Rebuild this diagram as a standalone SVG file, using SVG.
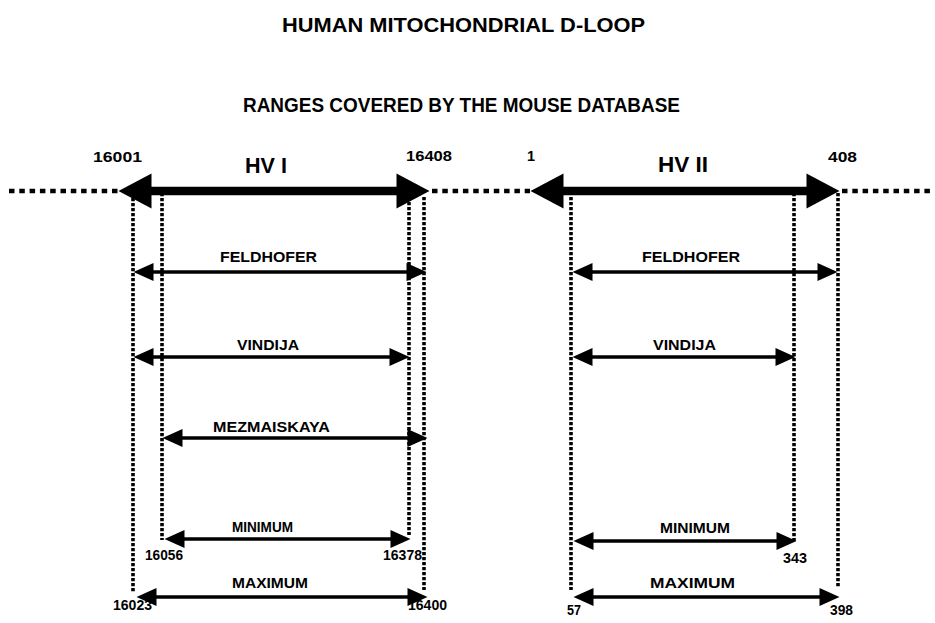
<svg xmlns="http://www.w3.org/2000/svg" width="935" height="623" viewBox="0 0 935 623">
<defs>
<style>
text{font-family:"Liberation Sans",Arial,Helvetica,sans-serif;font-weight:bold;fill:#000}
.title{font-size:20px}
.sub{font-size:20px}
.hv{font-size:22px}
.num{font-size:14.5px}
.lab{font-size:15px}
.hdot{stroke:#000;stroke-width:4.5;stroke-dasharray:5.5 4.8;fill:none}
.vdot{stroke:#000;stroke-width:3.6;stroke-dasharray:3.3 1.7;fill:none}
.big{stroke:#000;stroke-width:8.5;fill:none;marker-start:url(#bighead);marker-end:url(#bighead)}
.thin{stroke:#000;stroke-width:3.5;fill:none;marker-start:url(#head);marker-end:url(#head)}
</style>
<marker id="head" markerUnits="userSpaceOnUse" viewBox="0 0 20 18" markerWidth="20" markerHeight="18" refX="0.5" refY="9" orient="auto-start-reverse" overflow="visible">
<path d="M0,0 L20,9 L0,18 Z" fill="#000"/>
</marker>
<marker id="bighead" markerUnits="userSpaceOnUse" viewBox="0 0 33 35" markerWidth="33" markerHeight="35" refX="0.5" refY="17.5" orient="auto-start-reverse" overflow="visible">
<path d="M0,0 L33,17.5 L0,35 Z" fill="#000"/>
</marker>
</defs>
<rect width="935" height="623" fill="#fff"/>

<g id="titles">
<text class="title" x="282" y="32" textLength="363" lengthAdjust="spacingAndGlyphs">HUMAN MITOCHONDRIAL D-LOOP</text>
<text class="sub" x="243" y="112" textLength="437" lengthAdjust="spacingAndGlyphs">RANGES COVERED BY THE MOUSE DATABASE</text>
</g>

<g id="connectors">
<line class="hdot" x1="9" y1="191" x2="118" y2="191"/>
<line class="hdot" x1="432" y1="191" x2="530" y2="191"/>
<line class="hdot" x1="842" y1="191" x2="932" y2="191"/>
<line class="vdot" x1="133" y1="193" x2="133" y2="593"/>
<line class="vdot" x1="162" y1="193" x2="162" y2="540"/>
<line class="vdot" x1="409" y1="197" x2="409" y2="535"/>
<line class="vdot" x1="424" y1="197" x2="424" y2="590"/>
<line class="vdot" x1="571" y1="197" x2="571" y2="590"/>
<line class="vdot" x1="794" y1="193" x2="794" y2="542"/>
<line class="vdot" x1="838" y1="193" x2="838" y2="588"/>
</g>

<g id="hv1">
<line class="big" x1="151" y1="191" x2="397" y2="191"/>
<text class="num" x="93" y="162" textLength="49" lengthAdjust="spacingAndGlyphs">16001</text>
<text class="hv" x="245" y="173" textLength="42" lengthAdjust="spacingAndGlyphs">HV I</text>
<text class="num" x="406" y="161" textLength="46" lengthAdjust="spacingAndGlyphs">16408</text>
</g>

<g id="hv2">
<line class="big" x1="563" y1="191" x2="807" y2="191"/>
<text class="num" x="527" y="161">1</text>
<text class="hv" x="658" y="172" textLength="50" lengthAdjust="spacingAndGlyphs">HV II</text>
<text class="num" x="828" y="162" textLength="29" lengthAdjust="spacingAndGlyphs">408</text>
</g>

<g id="hv1-feldhofer">
<text class="lab" x="220" y="262" textLength="97" lengthAdjust="spacingAndGlyphs">FELDHOFER</text>
<line class="thin" x1="153" y1="272" x2="407" y2="272"/>
</g>
<g id="hv1-vindija">
<text class="lab" x="237" y="350" textLength="62" lengthAdjust="spacingAndGlyphs">VINDIJA</text>
<line class="thin" x1="153" y1="357" x2="390" y2="357"/>
</g>
<g id="hv1-mezmaiskaya">
<text class="lab" x="213" y="432" textLength="117" lengthAdjust="spacingAndGlyphs">MEZMAISKAYA</text>
<line class="thin" x1="182" y1="438" x2="408" y2="438"/>
</g>
<g id="hv1-minimum">
<text class="lab" x="232" y="532" textLength="61" lengthAdjust="spacingAndGlyphs">MINIMUM</text>
<line class="thin" x1="184" y1="539" x2="391" y2="539"/>
<text class="num" x="145" y="560" textLength="38" lengthAdjust="spacingAndGlyphs">16056</text>
<text class="num" x="383" y="560" textLength="39" lengthAdjust="spacingAndGlyphs">16378</text>
</g>
<g id="hv1-maximum">
<text class="lab" x="232" y="588" textLength="76" lengthAdjust="spacingAndGlyphs">MAXIMUM</text>
<line class="thin" x1="156" y1="597" x2="408" y2="597"/>
<text class="num" x="113" y="610" textLength="39" lengthAdjust="spacingAndGlyphs">16023</text>
<text class="num" x="408" y="610" textLength="39" lengthAdjust="spacingAndGlyphs">16400</text>
</g>

<g id="hv2-feldhofer">
<text class="lab" x="642" y="262" textLength="98" lengthAdjust="spacingAndGlyphs">FELDHOFER</text>
<line class="thin" x1="592" y1="272" x2="818" y2="272"/>
</g>
<g id="hv2-vindija">
<text class="lab" x="653" y="350" textLength="63" lengthAdjust="spacingAndGlyphs">VINDIJA</text>
<line class="thin" x1="592" y1="357" x2="776" y2="357"/>
</g>
<g id="hv2-minimum">
<text class="lab" x="660" y="533" textLength="70" lengthAdjust="spacingAndGlyphs">MINIMUM</text>
<line class="thin" x1="593" y1="541" x2="777" y2="541"/>
<text class="num" x="783" y="563" textLength="24" lengthAdjust="spacingAndGlyphs">343</text>
</g>
<g id="hv2-maximum">
<text class="lab" x="650" y="588" textLength="85" lengthAdjust="spacingAndGlyphs">MAXIMUM</text>
<line class="thin" x1="593" y1="597" x2="820" y2="597"/>
<text class="num" x="567" y="615" textLength="14" lengthAdjust="spacingAndGlyphs">57</text>
<text class="num" x="830" y="615" textLength="23" lengthAdjust="spacingAndGlyphs">398</text>
</g>
</svg>
